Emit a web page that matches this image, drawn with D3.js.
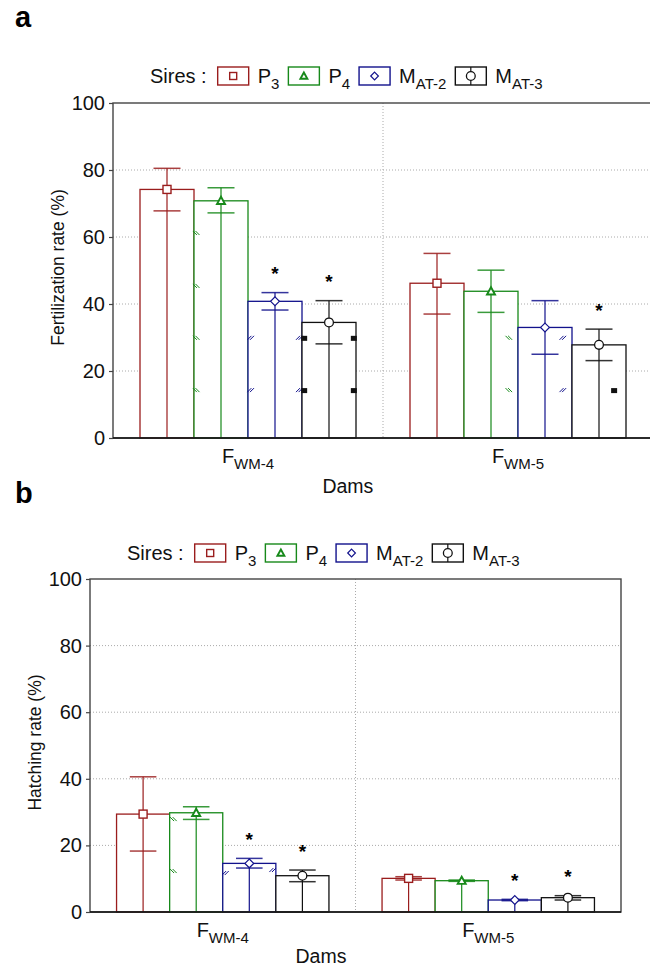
<!doctype html>
<html lang="en">
<head>
<meta charset="utf-8">
<title>Fertilization and hatching rate</title>
<style>
  body { margin: 0; background: #fff; }
  svg { display: block; font-family: "Liberation Sans", Arial, sans-serif; }
</style>
</head>
<body>
<svg id="chart" width="650" height="969"></svg>
<script src="https://d3js.org/d3.v7.min.js"></script>
<script>
// ---- data ----
var dams = ["WM-4", "WM-5"];
var sires = ["P3", "P4", "MAT-2", "MAT-3"];
var sireMain = ["P", "P", "M", "M"];
var sireSub = ["3", "4", "AT-2", "AT-3"];
var sireColor = ["#9a1d1d", "#17891a", "#12128c", "#111111"];
var yTicks = [0, 20, 40, 60, 80, 100];

// fertilization rate, rows = dams, cols = sires
var fertMean = [[74.2, 70.8, 40.8, 34.5], [46.2, 43.8, 33.0, 27.8]];
var fertHi   = [[80.5, 74.7, 43.4, 41.0], [55.1, 50.1, 41.0, 32.5]];
var fertLo   = [[67.8, 67.2, 38.2, 28.1], [37.0, 37.5, 25.0, 23.1]];
var fertSig  = [[0, 0, 1, 1], [0, 0, 0, 1]];

// hatching rate
var hatchMean = [[29.4, 29.8, 14.6, 10.9], [10.1, 9.4, 3.6, 4.3]];
var hatchHi   = [[40.6, 31.6, 16.1, 12.6], [10.6, 9.6, 3.8, 4.9]];
var hatchLo   = [[18.3, 27.8, 13.2, 9.1], [9.6, 9.2, 3.4, 3.6]];
var hatchSig  = [[0, 0, 1, 1], [0, 0, 1, 1]];

// little fill-pattern leftovers on bar edges: [dam, sire, position across bar, value, kind]
var fertPatternMarks = [
  [0, 1, 0.04, 61.2, "s"], [0, 1, 0.04, 45.4, "s"], [0, 1, 0.04, 29.9, "s"], [0, 1, 0.04, 14.3, "s"],
  [0, 2, 0.05, 29.9, "s"], [0, 2, 0.05, 14.3, "s"], [0, 2, 0.95, 29.9, "s"], [0, 2, 0.95, 14.3, "s"],
  [0, 3, 0.04, 29.9, "q"], [0, 3, 0.04, 14.3, "q"], [0, 3, 0.96, 29.9, "q"], [0, 3, 0.96, 14.3, "q"],
  [1, 1, 0.83, 29.9, "s"], [1, 1, 0.83, 14.3, "s"],
  [1, 2, 0.83, 29.9, "s"], [1, 2, 0.83, 14.3, "s"],
  [1, 3, 0.78, 14.3, "q"]
];
var hatchPatternMarks = [
  [0, 1, 0.07, 27.9, "s"], [0, 1, 0.07, 12.3, "s"],
  [0, 2, 0.05, 11.7, "s"], [0, 2, 0.94, 12.6, "s"]
];

var panels = [
  { tag: "a", tagY: 27, left: 113, right: 653, top: 103, bottom: 438, legendY: 83, damsDy: 55,
    title: "Fertilization rate (%)", mean: fertMean, hi: fertHi, lo: fertLo, sig: fertSig,
    marks: fertPatternMarks },
  { tag: "b", tagY: 503, left: 90, right: 621, top: 579, bottom: 912, legendY: 560, damsDy: 51,
    title: "Hatching rate (%)", mean: hatchMean, hi: hatchHi, lo: hatchLo, sig: hatchSig,
    marks: hatchPatternMarks }
];

var svg = d3.select("#chart");

function subText(sel, main, sub, size, subSize) {
  sel.append("tspan").text(main);
  sel.append("tspan").attr("font-size", subSize).attr("dy", size * 0.3).text(sub);
}

function marker(g, i, cx, cy, s) {
  var c = sireColor[i];
  if (i === 0) {
    g.append("rect").attr("x", cx - s / 2).attr("y", cy - s / 2).attr("width", s).attr("height", s)
      .attr("fill", "#fff").attr("stroke", c).attr("stroke-width", 1.4);
  } else if (i === 1) {
    var h = s * 0.5;
    g.append("path").attr("d", "M" + cx + "," + (cy - h) + "L" + (cx + h) + "," + (cy + h * 0.8) + "L" + (cx - h) + "," + (cy + h * 0.8) + "Z")
      .attr("fill", "#fff").attr("stroke", c).attr("stroke-width", 1.9);
  } else if (i === 2) {
    var d = s * 0.55;
    g.append("path").attr("d", "M" + cx + "," + (cy - d) + "L" + (cx + d) + "," + cy + "L" + cx + "," + (cy + d) + "L" + (cx - d) + "," + cy + "Z")
      .attr("fill", "#fff").attr("stroke", c).attr("stroke-width", 1.2);
  } else {
    g.append("circle").attr("cx", cx).attr("cy", cy).attr("r", s * 0.55)
      .attr("fill", "#fff").attr("stroke", c).attr("stroke-width", 1.3);
  }
}

panels.forEach(function(p) {
  var g = svg.append("g");

  var x0 = d3.scaleBand().domain(dams).range([p.left, p.right]);
  var bw = x0.bandwidth();
  var x1 = d3.scaleBand().domain(sires).range([bw * 0.1, bw * 0.9]);
  var y = d3.scaleLinear().domain([0, 100]).range([p.bottom, p.top]);

  // panel tag
  g.append("text").attr("x", 15).attr("y", p.tagY).attr("font-size", 29).attr("font-weight", "bold").text(p.tag);

  // grid
  g.selectAll(".grid").data(yTicks.filter(function(t) { return t > 0 && t < 100; }))
    .enter().append("line")
    .attr("x1", p.left).attr("x2", p.right)
    .attr("y1", function(t) { return y(t); }).attr("y2", function(t) { return y(t); })
    .attr("stroke", "#aaa").attr("stroke-width", 1).attr("stroke-dasharray", "1,2");
  g.append("line")
    .attr("x1", x0(dams[1])).attr("x2", x0(dams[1]))
    .attr("y1", p.top).attr("y2", p.bottom)
    .attr("stroke", "#aaa").attr("stroke-width", 1).attr("stroke-dasharray", "1,2");

  // bars, error bars, markers
  dams.forEach(function(dam, di) {
    sires.forEach(function(s, si) {
      var bx = x0(dam) + x1(s), w = x1.bandwidth(), cx = bx + w / 2;
      var c = sireColor[si];
      var v = p.mean[di][si], hi = p.hi[di][si], lo = p.lo[di][si];
      g.append("rect").attr("x", bx).attr("y", y(v)).attr("width", w).attr("height", y(0) - y(v))
        .attr("fill", "#fff").attr("stroke", c).attr("stroke-width", 1.3);
      g.append("line").attr("x1", cx).attr("x2", cx).attr("y1", y(0)).attr("y2", y(hi))
        .attr("stroke", c).attr("stroke-width", 1.2);
      [hi, lo].forEach(function(e) {
        g.append("line").attr("x1", cx - w / 4).attr("x2", cx + w / 4).attr("y1", y(e)).attr("y2", y(e))
          .attr("stroke", c).attr("stroke-width", 1.5).attr("stroke-opacity", 0.85);
      });
      marker(g, si, cx, y(v), 8);
      if (p.sig[di][si]) {
        g.append("text").attr("x", cx).attr("y", y(hi) - 26).attr("dy", "0.72em")
          .attr("text-anchor", "middle").attr("font-size", 19).attr("font-weight", "bold").text("*");
      }
    });
  });

  // pattern leftovers
  p.marks.forEach(function(m) {
    var bx = x0(dams[m[0]]) + x1(sires[m[1]]), w = x1.bandwidth();
    var mx = bx + m[2] * w, my = y(m[3]), c = sireColor[m[1]];
    if (m[4] === "q") {
      g.append("rect").attr("x", mx - 3).attr("y", my - 2).attr("width", 6).attr("height", 5).attr("fill", c);
    } else {
      var dir = m[1] === 1 ? 1 : -1;
      [-1.3, 1.3].forEach(function(o) {
        g.append("line")
          .attr("x1", mx - 2 + o).attr("y1", my - 2 * dir)
          .attr("x2", mx + 2 + o).attr("y2", my + 2 * dir)
          .attr("stroke", c).attr("stroke-width", 1);
      });
    }
  });

  // frame
  g.append("rect").attr("x", p.left).attr("y", p.top).attr("width", p.right - p.left).attr("height", p.bottom - p.top)
    .attr("fill", "none").attr("stroke", "#444").attr("stroke-width", 1.4);
  g.append("line").attr("x1", p.left).attr("x2", p.right).attr("y1", p.bottom).attr("y2", p.bottom)
    .attr("stroke", "#111").attr("stroke-width", 1.6);

  // y axis
  var yAxis = d3.axisLeft(y).tickValues(yTicks).tickSize(4).tickPadding(4);
  var ag = g.append("g").attr("transform", "translate(" + p.left + ",0)").call(yAxis);
  ag.select(".domain").remove();
  ag.selectAll("line").attr("stroke", "#444").attr("stroke-width", 1.2);
  ag.selectAll("text").attr("font-size", 20).attr("fill", "#111")
    .attr("font-family", "Liberation Sans, Arial, sans-serif");

  g.append("text")
    .attr("transform", "translate(" + (p.left - 55) + "," + ((p.top + p.bottom) / 2 - 3) + ") rotate(-90)")
    .attr("text-anchor", "middle").attr("dy", "0.35em").attr("font-size", 17.5).attr("fill", "#111").text(p.title);

  // x labels
  dams.forEach(function(dam) {
    var t = g.append("text").attr("x", x0(dam) + bw / 2).attr("y", p.bottom + 25)
      .attr("text-anchor", "middle").attr("font-size", 20).attr("fill", "#111");
    subText(t, "F", dam, 20, 15);
  });
  g.append("text").attr("x", p.left + (p.right - p.left) * 0.435).attr("y", p.bottom + p.damsDy)
    .attr("text-anchor", "middle").attr("font-size", 19.5).attr("fill", "#111").text("Dams");

  // legend
  var lx = p.left + 37, ly = p.legendY;
  var st = g.append("text").attr("x", lx).attr("y", ly).attr("font-size", 20).attr("fill", "#111").text("Sires :");
  lx += st.node().getComputedTextLength() + 11;
  sires.forEach(function(s, si) {
    var bh = 18, bwid = 31, by = ly - 16;
    g.append("rect").attr("x", lx).attr("y", by).attr("width", bwid).attr("height", bh)
      .attr("fill", "#fff").attr("stroke", sireColor[si]).attr("stroke-width", 1.4);
    if (si === 3) {
      g.append("line").attr("x1", lx + bwid / 2).attr("x2", lx + bwid / 2).attr("y1", by).attr("y2", by + bh)
        .attr("stroke", sireColor[si]).attr("stroke-width", 1.2);
    }
    marker(g, si, lx + bwid / 2, by + bh / 2, si === 3 ? 8 : 7);
    lx += bwid + 9;
    var t = g.append("text").attr("x", lx).attr("y", ly).attr("font-size", 20).attr("fill", "#111");
    subText(t, sireMain[si], sireSub[si], 20, 15);
    lx += t.node().getComputedTextLength() + 9;
  });
});
</script>
</body>
</html>
